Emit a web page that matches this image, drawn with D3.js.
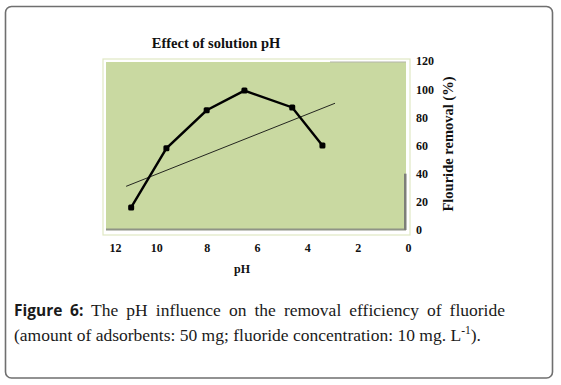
<!DOCTYPE html>
<html>
<head>
<meta charset="utf-8">
<script src="https://cdn.jsdelivr.net/npm/d3@7"></script>
<style>
  body { margin: 0; background: #fff; }
</style>
</head>
<body>
<div id="chart-area"></div>
<script>
const svgWidth = 561, svgHeight = 385;

// data
const phValues = [11, 9.6, 8, 6.5, 4.6, 3.4];
const removalValues = [16, 58, 85, 99, 87, 60];
const trendPh = [11.2, 2.9];
const trendRemoval = [31, 90];
const xTickLabels = [12, 10, 8, 6, 4, 2, 0];
const yTickLabels = [0, 20, 40, 60, 80, 100, 120];

const svg = d3.select("#chart-area")
  .append("svg")
    .attr("width", svgWidth)
    .attr("height", svgHeight);

// outer frame
svg.append("rect")
  .attr("x", 5.5).attr("y", 6.5)
  .attr("width", 547).attr("height", 371.5)
  .attr("rx", 6)
  .attr("fill", "none")
  .attr("stroke", "#6f6f6f")
  .attr("stroke-width", 1.6);

const x = d3.scaleLinear().domain([12, 0]).range([106, 408]);
const y = d3.scaleLinear().domain([0, 120]).range([230, 61]);

const serif = "Liberation Serif";

// plot area
svg.append("rect")
  .attr("x", 103).attr("y", 59)
  .attr("width", 307).attr("height", 176)
  .attr("fill", "none")
  .attr("stroke", "#dfe8c4")
  .attr("stroke-width", 1.2);
svg.append("rect")
  .attr("x", 106).attr("y", 62)
  .attr("width", 300).attr("height", 168)
  .attr("fill", "#c9d9a1");
// shading artefacts of the original
svg.append("rect").attr("x", 106).attr("y", 228.5).attr("width", 300).attr("height", 2).attr("fill", "#8f9486");
svg.append("rect").attr("x", 404).attr("y", y(40)).attr("width", 2.5).attr("height", y(0) - y(40)).attr("fill", "#7d7f78");
svg.append("rect").attr("x", 330).attr("y", 61.5).attr("width", 76).attr("height", 1).attr("fill", "#b4b6aa");

svg.append("text")
  .text("Effect of solution pH")
  .attr("x", 216).attr("y", 48)
  .attr("text-anchor", "middle")
  .attr("font-family", serif)
  .attr("font-size", 14.5)
  .attr("font-weight", 700)
  .attr("fill", "#111");

// axes (labels only)
const xAxis = svg.append("g")
  .attr("transform", "translate(0,241)")
  .call(d3.axisBottom(x).tickValues(xTickLabels).tickSize(0).tickPadding(2));
xAxis.select(".domain").remove();
xAxis.selectAll("text")
  .attr("font-family", serif).attr("font-size", 12).attr("font-weight", 700).attr("fill", "#111")
  .attr("dx", d => d === 12 ? 9 : 0);

const yAxis = svg.append("g")
  .attr("transform", "translate(414,0)")
  .call(d3.axisRight(y).tickValues(yTickLabels).tickSize(0).tickPadding(2));
yAxis.select(".domain").remove();
yAxis.selectAll("text")
  .attr("font-family", serif).attr("font-size", 12).attr("font-weight", 700).attr("fill", "#111");

svg.append("text")
  .text("pH")
  .attr("x", 242).attr("y", 273)
  .attr("text-anchor", "middle")
  .attr("font-family", serif).attr("font-size", 12).attr("font-weight", 700).attr("fill", "#111");

svg.append("text")
  .text("Flouride removal (%)")
  .attr("transform", "translate(453,144) rotate(-90)")
  .attr("text-anchor", "middle")
  .attr("font-family", serif).attr("font-size", 14.5).attr("font-weight", 700).attr("fill", "#111");

// trend line
svg.append("line")
  .attr("x1", x(trendPh[0])).attr("y1", y(trendRemoval[0]))
  .attr("x2", x(trendPh[1])).attr("y2", y(trendRemoval[1]))
  .attr("stroke", "#111").attr("stroke-width", 0.9);

const points = phValues.map((p, i) => ({ ph: p, r: removalValues[i] }));

svg.append("path")
  .datum(points)
  .attr("d", d3.line().x(d => x(d.ph)).y(d => y(d.r)))
  .attr("fill", "none")
  .attr("stroke", "#000")
  .attr("stroke-width", 2.4);

svg.selectAll(".marker")
  .data(points)
  .enter()
  .append("rect")
    .attr("class", "marker")
    .attr("x", d => x(d.ph) - 3).attr("y", d => y(d.r) - 3)
    .attr("width", 6).attr("height", 6)
    .attr("rx", 1.5)
    .attr("fill", "#000");

// caption, first line justified by widening the word gaps
const cap1 = svg.append("text")
  .attr("x", 14).attr("y", 316)
  .attr("font-family", serif).attr("font-size", 17.5).attr("fill", "#1a1a1a");
cap1.append("tspan").text("Figure 6:")
  .attr("font-family", "Open Sans")
  .attr("font-weight", 700).attr("font-size", 15.5);
cap1.append("tspan").text(" The pH influence on the removal efficiency of fluoride");
const natural = cap1.node().getComputedTextLength();
cap1.attr("word-spacing", Math.max(0, (491 - natural) / 10));

const cap2 = svg.append("text")
  .attr("x", 14).attr("y", 341)
  .attr("font-family", serif).attr("font-size", 17.5).attr("fill", "#1a1a1a");
cap2.append("tspan").text("(amount of adsorbents: 50 mg; fluoride concentration: 10 mg. L");
cap2.append("tspan").text("-1").attr("font-size", 11.5).attr("dy", -7);
cap2.append("tspan").text(").").attr("dy", 7);
</script>
</body>
</html>
